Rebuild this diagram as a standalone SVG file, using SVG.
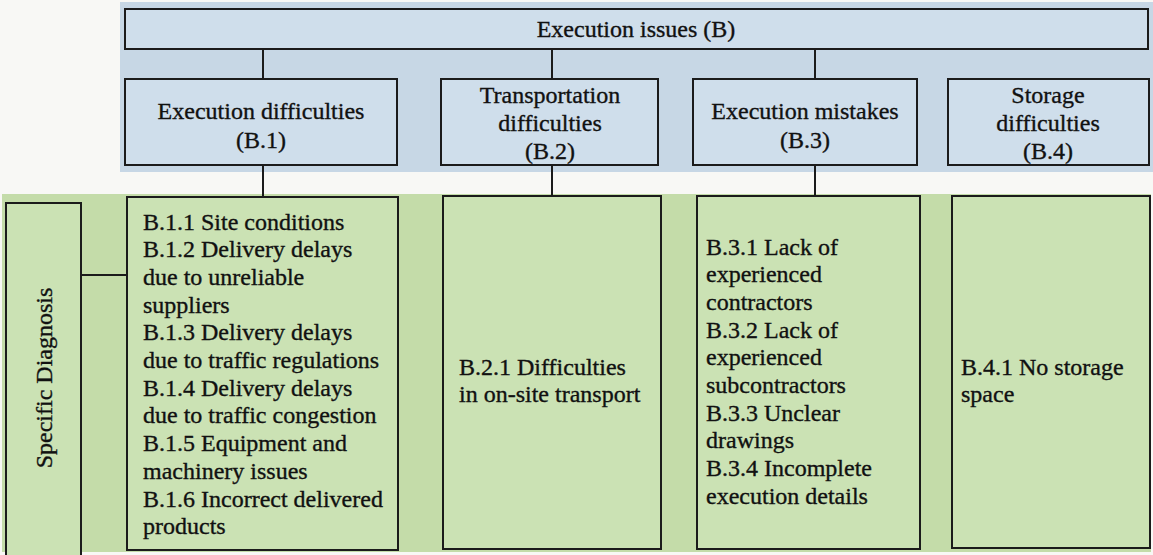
<svg xmlns="http://www.w3.org/2000/svg" width="1153" height="555" viewBox="0 0 1153 555">
  <style>
    .band-blue { fill: #c7d7e5; }
    .band-green { fill: #c4dca9; }
    .box-blue { fill: #cfdeeb; stroke: #1b1b1b; stroke-width: 2; }
    .box-green { fill: #cbe2b4; stroke: #1b1b1b; stroke-width: 2; }
    .link { stroke: #1b1b1b; stroke-width: 2; fill: none; }
    text { font-family: "Liberation Serif", "Times New Roman", serif; font-size: 24px; fill: #111; stroke: #111; stroke-width: 0.35; }
    .c { text-anchor: middle; }
  </style>

  <rect width="1153" height="555" fill="#f8f8f5"/>

  <!-- background bands -->
  <rect class="band-blue" x="120" y="2" width="1033" height="170"/>
  <rect class="band-green" x="2" y="194" width="1149" height="358"/>

  <!-- connectors -->
  <g id="connectors">
    <line class="link" x1="263" y1="49" x2="263" y2="79"/>
    <line class="link" x1="552" y1="49" x2="552" y2="79"/>
    <line class="link" x1="815" y1="49" x2="815" y2="79"/>
    <line class="link" x1="263" y1="165" x2="263" y2="197"/>
    <line class="link" x1="552" y1="165" x2="552" y2="196"/>
    <line class="link" x1="815" y1="165" x2="815" y2="196"/>
    <line class="link" x1="81" y1="275" x2="127" y2="275"/>
  </g>

  <!-- root -->
  <g id="node-B">
    <rect class="box-blue" x="125" y="9" width="1023" height="40"/>
    <text class="c" x="636" y="37">Execution issues (B)</text>
  </g>

  <!-- categories -->
  <g id="node-B1">
    <rect class="box-blue" x="125" y="79" width="272" height="86"/>
    <text class="c" x="261" y="119">Execution difficulties</text>
    <text class="c" x="261" y="148">(B.1)</text>
  </g>
  <g id="node-B2">
    <rect class="box-blue" x="441" y="79" width="217" height="86"/>
    <text class="c" x="550" y="103">Transportation</text>
    <text class="c" x="550" y="131">difficulties</text>
    <text class="c" x="550" y="159">(B.2)</text>
  </g>
  <g id="node-B3">
    <rect class="box-blue" x="693" y="79" width="224" height="86"/>
    <text class="c" x="805" y="119">Execution mistakes</text>
    <text class="c" x="805" y="148">(B.3)</text>
  </g>
  <g id="node-B4">
    <rect class="box-blue" x="948" y="79" width="201" height="86"/>
    <text class="c" x="1048" y="103">Storage</text>
    <text class="c" x="1048" y="131">difficulties</text>
    <text class="c" x="1048" y="159">(B.4)</text>
  </g>

  <!-- side label -->
  <g id="node-specific">
    <rect class="box-green" x="6" y="203" width="75" height="360"/>
    <text class="c" transform="translate(52 378) rotate(-90)">Specific Diagnosis</text>
  </g>

  <!-- specific diagnoses -->
  <g id="node-B1-items">
    <rect class="box-green" x="127" y="197" width="271" height="353"/>
    <text x="143" y="229.5">B.1.1 Site conditions</text>
    <text x="143" y="257.2">B.1.2 Delivery delays</text>
    <text x="143" y="284.9">due to unreliable</text>
    <text x="143" y="312.6">suppliers</text>
    <text x="143" y="340.3">B.1.3 Delivery delays</text>
    <text x="143" y="368">due to traffic regulations</text>
    <text x="143" y="395.7">B.1.4 Delivery delays</text>
    <text x="143" y="423.4">due to traffic congestion</text>
    <text x="143" y="451.1">B.1.5 Equipment and</text>
    <text x="143" y="478.8">machinery issues</text>
    <text x="143" y="506.5">B.1.6 Incorrect delivered</text>
    <text x="143" y="534.2">products</text>
  </g>
  <g id="node-B2-items">
    <rect class="box-green" x="443" y="196" width="218" height="353"/>
    <text x="459" y="374.5">B.2.1 Difficulties</text>
    <text x="459" y="402.2">in on-site transport</text>
  </g>
  <g id="node-B3-items">
    <rect class="box-green" x="697" y="196" width="223" height="353"/>
    <text x="706" y="254.5">B.3.1 Lack of</text>
    <text x="706" y="282.2">experienced</text>
    <text x="706" y="309.9">contractors</text>
    <text x="706" y="337.6">B.3.2 Lack of</text>
    <text x="706" y="365.3">experienced</text>
    <text x="706" y="393">subcontractors</text>
    <text x="706" y="420.7">B.3.3 Unclear</text>
    <text x="706" y="448.4">drawings</text>
    <text x="706" y="476.1">B.3.4 Incomplete</text>
    <text x="706" y="503.8">execution details</text>
  </g>
  <g id="node-B4-items">
    <rect class="box-green" x="952" y="196" width="198" height="352"/>
    <text x="961" y="374.5">B.4.1 No storage</text>
    <text x="961" y="402.2">space</text>
  </g>
</svg>
